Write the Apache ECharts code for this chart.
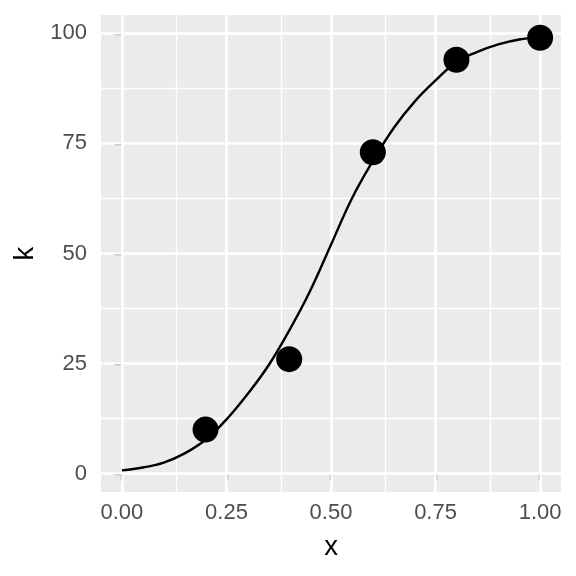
<!DOCTYPE html>
<html>
<head>
<meta charset="utf-8">
<script src="https://cdn.jsdelivr.net/npm/echarts@6/dist/echarts.min.js"></script>
<style>
html,body{margin:0;padding:0;background:#fff;}
#chart{width:576px;height:576px;}
</style>
</head>
<body>
<div id="chart"></div>
<script>
// observed points
var pointX = [0.2, 0.4, 0.6, 0.8, 1.0];
var pointK = [10, 26, 73, 94, 99];
// fitted curve
var curveX = [0, 0.05, 0.1, 0.15, 0.2, 0.25, 0.3, 0.35, 0.4, 0.45, 0.5, 0.55, 0.6, 0.65, 0.7, 0.75, 0.8, 0.85, 0.9, 0.95, 1.0];
var curveK = [0.75, 1.4, 2.5, 4.6, 7.7, 12.3, 18, 24.5, 32.5, 41.5, 52, 62.5, 71, 78.5, 84.5, 89.3, 93.5, 95.8, 97.5, 98.6, 99.2];
// tick labels / grid
var xTicks = [0, 0.25, 0.5, 0.75, 1.0];
var xMinor = [0.125, 0.375, 0.625, 0.875];
var yTicks = [0, 25, 50, 75, 100];
var yMinor = [12.5, 37.5, 62.5, 87.5];

var chart = echarts.init(document.getElementById('chart'), null, {renderer: 'canvas'});

var font = 'Liberation Sans, Arial, Helvetica, sans-serif';

function pairs(xs, ys) { return xs.map(function (x, i) { return [x, ys[i]]; }); }

var gridLines = [];
xMinor.forEach(function (v) { gridLines.push({xAxis: v, lineStyle: {color: '#FFFFFF', width: 1.3, type: 'solid'}}); });
yMinor.forEach(function (v) { gridLines.push({yAxis: v, lineStyle: {color: '#FFFFFF', width: 1.3, type: 'solid'}}); });
xTicks.forEach(function (v) { gridLines.push({xAxis: v, lineStyle: {color: '#FFFFFF', width: 2.6, type: 'solid'}}); });
yTicks.forEach(function (v) { gridLines.push({yAxis: v, lineStyle: {color: '#FFFFFF', width: 2.6, type: 'solid'}}); });

var option = {
  animation: false,
  backgroundColor: '#FFFFFF',
  grid: {
    left: 101, top: 15, right: 15, bottom: 84,
    show: true, backgroundColor: '#EBEBEB', borderWidth: 0,
    containLabel: false
  },
  xAxis: {
    type: 'value', min: -0.05, max: 1.05,
    name: 'x', nameLocation: 'middle', nameGap: 41,
    nameTextStyle: {color: '#000000', fontSize: 27.5, fontFamily: font},
    axisLine: {show: false},
    axisTick: {show: true, customValues: xTicks, length: 7, lineStyle: {color: '#333333', width: 2.2}},
    axisLabel: {customValues: xTicks, margin: 10, color: '#4D4D4D', fontSize: 22, fontFamily: font,
      formatter: function (v) { return Number(v).toFixed(2); }},
    splitLine: {show: false}
  },
  yAxis: {
    type: 'value', min: -4.17, max: 104.17,
    name: 'k', nameLocation: 'middle', nameGap: 60, nameRotate: 90,
    nameTextStyle: {color: '#000000', fontSize: 27.5, fontFamily: font},
    axisLine: {show: false},
    axisTick: {show: true, customValues: yTicks, length: 7, lineStyle: {color: '#333333', width: 2.2}},
    axisLabel: {customValues: yTicks, margin: 14, color: '#4D4D4D', fontSize: 22, fontFamily: font,
      formatter: function (v) { return String(Math.round(v)); }},
    splitLine: {show: false}
  },
  series: [
    {
      type: 'line', data: [], z: 1, silent: true,
      markLine: {z: 1, silent: true, symbol: ['none', 'none'], label: {show: false}, animation: false,
        emphasis: {disabled: true}, data: gridLines}
    },
    {
      type: 'line', data: pairs(curveX, curveK), z: 8,
      showSymbol: false, smooth: 0.4,
      lineStyle: {color: '#000000', width: 2.4}
    },
    {
      type: 'scatter', data: pairs(pointX, pointK), z: 9,
      symbol: 'circle', symbolSize: 26,
      itemStyle: {color: '#000000', opacity: 1}
    }
  ]
};
chart.setOption(option);
</script>
</body>
</html>
